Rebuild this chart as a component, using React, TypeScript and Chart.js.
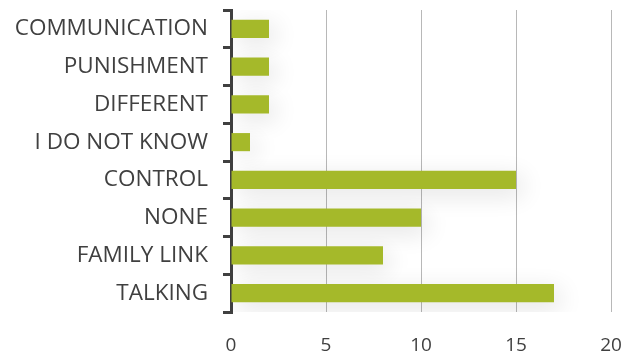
import React, { useEffect, useRef } from "react";
import { Chart, registerables } from "chart.js";

Chart.register(...registerables);

const categories = [
  "COMMUNICATION",
  "PUNISHMENT",
  "DIFFERENT",
  "I DO NOT KNOW",
  "CONTROL",
  "NONE",
  "FAMILY LINK",
  "TALKING",
];
const values = [2, 2, 2, 1, 15, 10, 8, 17];
const xMin = 0;
const xMax = 20;
const xStep = 5;

const shadowPlugin = {
  id: "barShadow",
  beforeDatasetsDraw(chart: any) {
    const ctx = chart.ctx;
    ctx.save();
    ctx.shadowColor = "rgba(0,0,0,0.12)";
    ctx.shadowBlur = 24;
    ctx.shadowOffsetX = 6;
    ctx.shadowOffsetY = 6;
  },
  afterDatasetsDraw(chart: any) {
    chart.ctx.restore();
  },
};

export default function App() {
  const ref = useRef<HTMLCanvasElement>(null);
  useEffect(() => {
    document.body.style.margin = "0";
    const chart = new Chart(ref.current!, {
      type: "bar",
      data: {
        labels: categories,
        datasets: [
          {
            data: values,
            backgroundColor: "#a5b92a",
            borderWidth: 0,
            categoryPercentage: 0.8,
            barPercentage: 0.6,
          },
        ],
      },
      plugins: [shadowPlugin],
      options: {
        indexAxis: "y",
        animation: false,
        responsive: false,
        maintainAspectRatio: false,
        layout: { padding: { left: 0, right: 26, top: 10, bottom: 0 } },
        plugins: { legend: { display: false }, tooltip: { enabled: false } },
        scales: {
          x: {
            min: xMin,
            max: xMax,
            afterFit(scale: any) {
              scale.height = 48;
              scale.paddingLeft = 0;
              scale.paddingRight = 0;
            },
            ticks: {
              stepSize: xStep,
              color: "#404040",
              font: { family: "Open Sans", size: 19 },
              padding: 22,
            },
            grid: { color: "#b8b8b8", lineWidth: 1, drawTicks: false },
            border: { display: false },
          },
          y: {
            afterFit(scale: any) {
              scale.width = 231;
              scale.paddingTop = 0;
              scale.paddingBottom = 0;
            },
            ticks: {
              color: "#404040",
              font: { family: "Open Sans", size: 22.5 },
              padding: 15,
            },
            grid: {
              offset: true,
              drawOnChartArea: false,
              drawTicks: true,
              tickLength: 8,
              color: "#404040",
              lineWidth: 3,
            },
            border: { display: true, color: "#404040", width: 3 },
          },
        },
      },
    });
    return () => chart.destroy();
  }, []);
  return (
    <div style={{ width: 637, height: 360 }}>
      <canvas ref={ref} width={637} height={360} />
    </div>
  );
}
